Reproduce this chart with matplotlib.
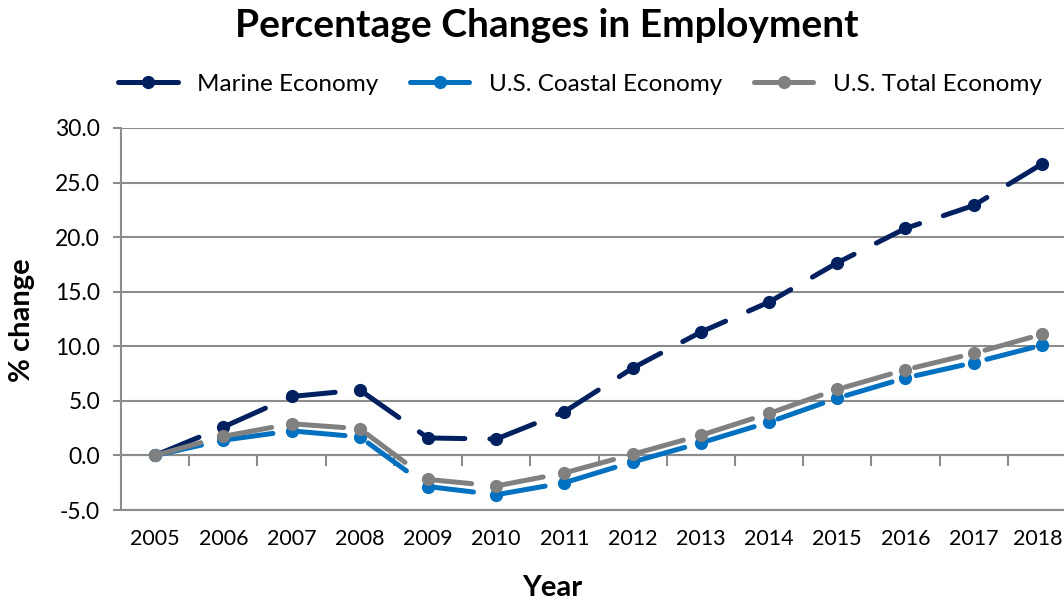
import matplotlib
matplotlib.use("Agg")
import matplotlib.pyplot as plt
import matplotlib.transforms as mtransforms
from matplotlib.lines import Line2D

plt.rcParams['font.family'] = ['Lato', 'DejaVu Sans']

years = ['2005', '2006', '2007', '2008', '2009', '2010', '2011',
         '2012', '2013', '2014', '2015', '2016', '2017', '2018']
marine = [0.0, 2.6, 5.4, 6.0, 1.6, 1.5, 4.0,
          8.0, 11.3, 14.05, 17.65, 20.8, 22.9, 26.7]
coastal = [0.0, 1.4, 2.25, 1.7, -2.85, -3.6, -2.5,
           -0.6, 1.15, 3.05, 5.25, 7.1, 8.5, 10.1]
total = [0.0, 1.75, 2.9, 2.45, -2.2, -2.8, -1.6,
         0.1, 1.85, 3.85, 6.05, 7.85, 9.35, 11.1]
yticks = [-5, 0, 5, 10, 15, 20, 25, 30]

series = [
    ('Marine Economy', marine, '#002060'),
    ('U.S. Coastal Economy', coastal, '#0070C0'),
    ('U.S. Total Economy', total, '#808080'),
]

fig = plt.figure(figsize=(10.64, 6.02), dpi=100)
ax = fig.add_axes([0.1137, 0.1528, 0.8976, 0.6346])

x = list(range(len(years)))
handles = []
for i, (name, vals, col) in enumerate(series):
    ln, = ax.plot(x, vals, color=col, lw=3.6, marker='o', ms=8.5,
                  dash_capstyle='round', solid_capstyle='round', zorder=3 + i)
    ln.set_dashes([9.5, 5.0])
    handles.append(Line2D([], [], color=col, lw=3.6, marker='o', ms=8.5,
                          solid_capstyle='round'))

ax.set_xlim(-0.5, len(years) - 0.5)
ax.set_ylim(-5, 30)
ax.set_yticks(yticks)
ax.set_yticklabels([f'{v:.1f}' for v in yticks])
ax.set_xticks(x)
ax.set_xticklabels(years)

grid_col = '#8C8C8C'
ax.yaxis.grid(True, color=grid_col, lw=1.5)
ax.set_axisbelow(True)
for s in ['top', 'right']:
    ax.spines[s].set_visible(False)
for s in ['left', 'bottom']:
    ax.spines[s].set_color(grid_col)
    ax.spines[s].set_linewidth(1.5)

ax.tick_params(axis='y', direction='out', length=6, width=1.5, color=grid_col,
               labelsize=16.5, pad=9)
ax.tick_params(axis='x', length=0, labelsize=15.5, pad=14)

# keep the last year label inside the canvas
last = ax.get_xticklabels()[-1]
last.set_transform(last.get_transform() +
                   mtransforms.ScaledTranslation(-4 / 100, 0, fig.dpi_scale_trans))

# category axis crossing at zero with tick marks between categories
sec = ax.secondary_xaxis(5 / 35)
sec.set_xticks([i + 0.5 for i in range(len(years) - 1)])
sec.set_xticklabels([])
sec.tick_params(direction='out', length=8, width=1.5, color=grid_col)
sec.spines['bottom'].set_color(grid_col)
sec.spines['bottom'].set_linewidth(1.5)
sec.spines['top'].set_visible(False)

fig.text(22 / 1064, 1 - 320 / 602, '% change', rotation=90, ha='center', va='center',
         fontsize=21, fontweight='bold')
fig.text(552 / 1064, 1 - 588 / 602, 'Year', ha='center', va='center',
         fontsize=21, fontweight='bold')

fig.text(0.514, 0.957, 'Percentage Changes in Employment', ha='center', va='center',
         fontsize=28, fontweight='bold')

fig.legend(handles, [s[0] for s in series], loc='center', bbox_to_anchor=(0.545, 0.860),
           ncol=3, frameon=False, fontsize=17.5, handlelength=2.45, columnspacing=1.3,
           handletextpad=0.8)

fig.savefig('out.png', dpi=100)
